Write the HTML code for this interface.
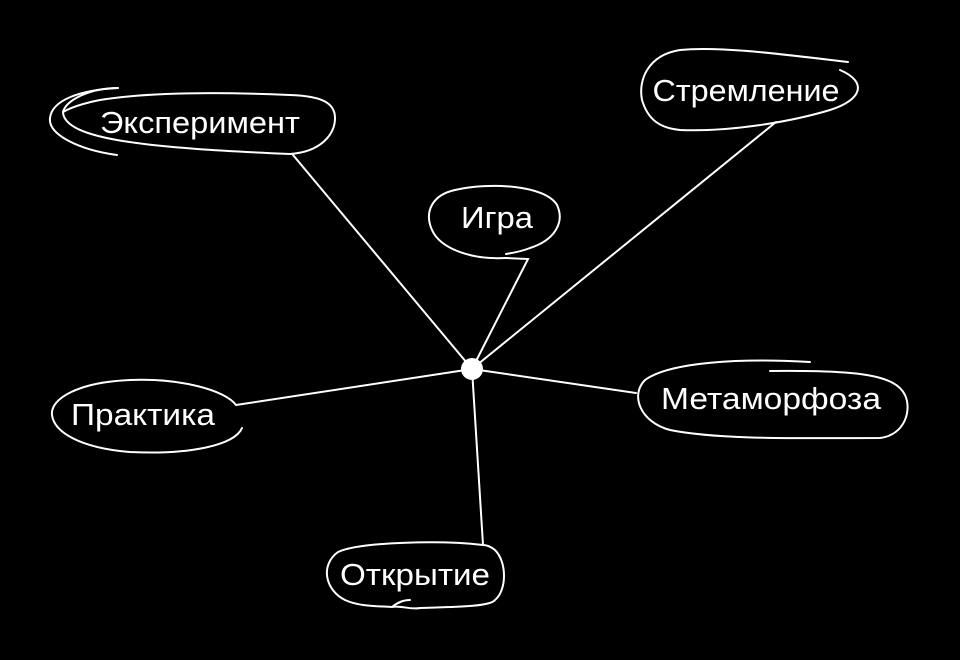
<!DOCTYPE html>
<html><head><meta charset="utf-8"><style>
html,body{margin:0;padding:0;background:#000;}
svg{display:block}
text{font-family:"Liberation Sans","Noto Sans CJK SC",sans-serif;font-size:31px;fill:#fff;text-anchor:middle;}
</style></head><body>
<svg width="960" height="660" viewBox="0 0 960 660" xmlns="http://www.w3.org/2000/svg">
<g stroke="#fff" stroke-width="2" fill="none" stroke-linecap="round">
<line x1="472" y1="369" x2="293" y2="155"/>
<path d="M472 369 L528 259 L506 258"/>
<line x1="472" y1="369" x2="776" y2="122"/>
<line x1="472" y1="369" x2="636" y2="393"/>
<line x1="472" y1="369" x2="483" y2="545"/>
<line x1="472" y1="369" x2="236" y2="405"/>
<path d="M117 155 C80 150 48 135 50 118 C52 100 80 90 118 88"/>
<path d="M118 88 C90 88 66 100 63 112 C64 140 150 148 290 154 C320 152 335 135 335 118 C335 102 320 96 290 95 C220 92 150 92 100 100 C80 104 70 108 63 112"/>
<path d="M848 62 C780 54 720 46 680 50 C648 55 638 80 642 100 C648 120 660 128 680 130 C730 132 790 122 830 110 C862 100 868 82 840 70"/>
<path d="M506 258 C470 260 440 248 432 230 C424 212 432 195 455 190 C490 182 545 185 557 205 C565 222 555 240 530 248 C520 252 512 253 506 254"/>
<path d="M810 362 C740 358 670 362 645 380 C630 395 640 422 670 430 C720 440 800 438 880 438 C905 435 912 410 905 395 C895 375 860 370 770 371"/>
<path d="M236 405 C225 390 180 378 130 380 C80 382 50 398 52 415 C54 432 80 448 130 452 C190 455 235 445 242 428"/>
<path d="M483 545 C440 540 360 542 338 552 C320 565 325 590 345 600 C360 607 380 606 392 607 C398 602 404 600 410 600 M392 607 C400 605 410 610 420 608 C450 607 490 607 495 600 C507 590 507 562 495 550 C490 546 486 545 483 545"/>
</g>
<circle cx="472" cy="369" r="11" fill="#fff"/>
<text x="200" y="133" textLength="200" lengthAdjust="spacingAndGlyphs">Эксперимент</text>
<text x="746" y="101" textLength="187" lengthAdjust="spacingAndGlyphs">Стремление</text>
<text x="497" y="228" textLength="72" lengthAdjust="spacingAndGlyphs">Игра</text>
<text x="143" y="425" textLength="144" lengthAdjust="spacingAndGlyphs">Практика</text>
<text x="771" y="409" textLength="220" lengthAdjust="spacingAndGlyphs">Метаморфоза</text>
<text x="415" y="585" textLength="150" lengthAdjust="spacingAndGlyphs">Открытие</text>
</svg>
</body></html>
